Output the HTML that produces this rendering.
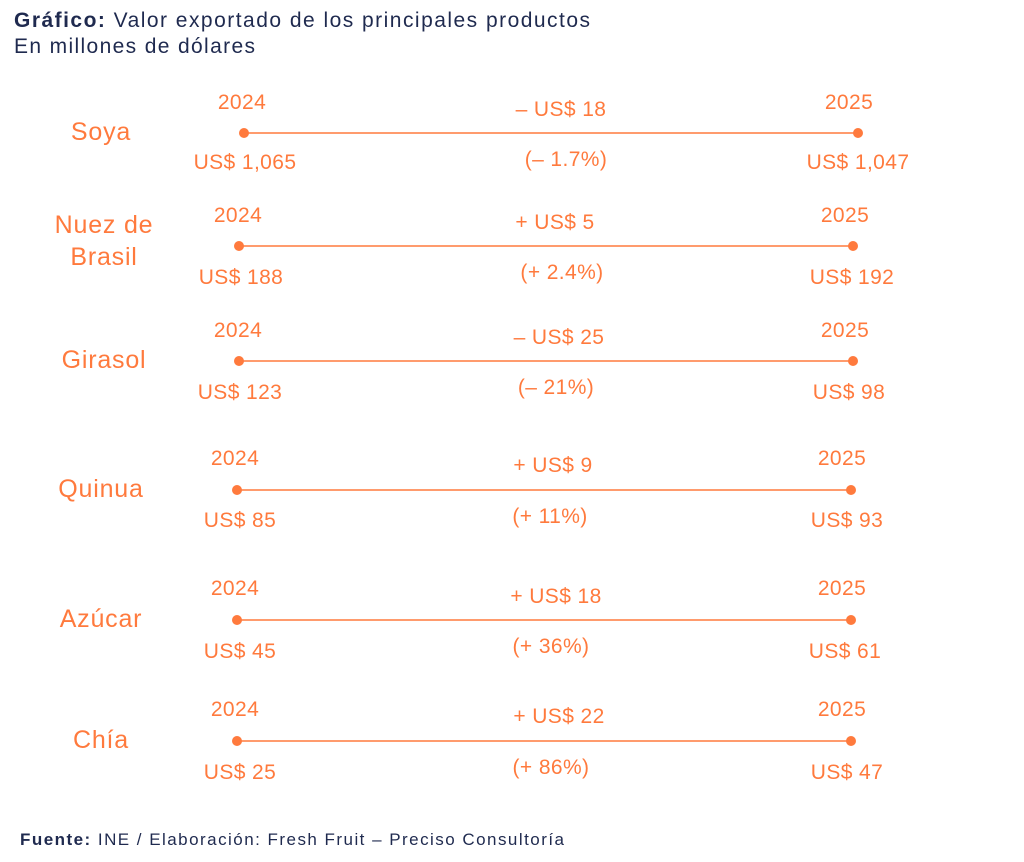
<!DOCTYPE html>
<html><head><meta charset="utf-8"><style>
html,body{margin:0;padding:0;background:#fff;}
svg{display:block;font-family:"Liberation Sans",sans-serif;}
.o{fill:#FF7A3D;font-size:21px;text-anchor:middle;letter-spacing:0.4px;}
.p{fill:#FF7A3D;font-size:25px;text-anchor:middle;letter-spacing:0.8px;}
.n{fill:#1f2a4f;}
</style></head><body>
<svg width="1024" height="862" viewBox="0 0 1024 862">
<text x="14" y="27" class="n" font-size="21" textLength="576" lengthAdjust="spacing"><tspan font-weight="bold">Gráfico:</tspan> Valor exportado de los principales productos</text>
<text x="14" y="53" class="n" font-size="21" textLength="241" lengthAdjust="spacing">En millones de dólares</text>
<g stroke="#FF7A3D" stroke-width="1.5">
<line x1="244" y1="133" x2="858" y2="133"/>
<line x1="239" y1="246" x2="853" y2="246"/>
<line x1="239" y1="361" x2="853" y2="361"/>
<line x1="237" y1="490" x2="851" y2="490"/>
<line x1="237" y1="620" x2="851" y2="620"/>
<line x1="237" y1="741" x2="851" y2="741"/>
</g>
<g fill="#FF7A3D">
<circle cx="244" cy="133" r="5"/><circle cx="858" cy="133" r="5"/>
<circle cx="239" cy="246" r="5"/><circle cx="853" cy="246" r="5"/>
<circle cx="239" cy="361" r="5"/><circle cx="853" cy="361" r="5"/>
<circle cx="237" cy="490" r="5"/><circle cx="851" cy="490" r="5"/>
<circle cx="237" cy="620" r="5"/><circle cx="851" cy="620" r="5"/>
<circle cx="237" cy="741" r="5"/><circle cx="851" cy="741" r="5"/>
</g>
<text class="p" x="101" y="140">Soya</text>
<text class="p" x="104" y="233">Nuez de</text>
<text class="p" x="104" y="265">Brasil</text>
<text class="p" x="104" y="368">Girasol</text>
<text class="p" x="101" y="497">Quinua</text>
<text class="p" x="101" y="627">Azúcar</text>
<text class="p" x="101" y="748">Chía</text>

<text class="o" x="242" y="109">2024</text><text class="o" x="849" y="109">2025</text>
<text class="o" x="245" y="169">US$ 1,065</text><text class="o" x="858" y="169">US$ 1,047</text>
<text class="o" x="561" y="116">– US$ 18</text><text class="o" x="566" y="166">(– 1.7%)</text>

<text class="o" x="238" y="222">2024</text><text class="o" x="845" y="222">2025</text>
<text class="o" x="241" y="284">US$ 188</text><text class="o" x="852" y="284">US$ 192</text>
<text class="o" x="555" y="229">+ US$ 5</text><text class="o" x="562" y="279">(+ 2.4%)</text>

<text class="o" x="238" y="337">2024</text><text class="o" x="845" y="337">2025</text>
<text class="o" x="240" y="399">US$ 123</text><text class="o" x="849" y="399">US$ 98</text>
<text class="o" x="559" y="344">– US$ 25</text><text class="o" x="556" y="394">(– 21%)</text>

<text class="o" x="235" y="465">2024</text><text class="o" x="842" y="465">2025</text>
<text class="o" x="240" y="527">US$ 85</text><text class="o" x="847" y="527">US$ 93</text>
<text class="o" x="553" y="472">+ US$ 9</text><text class="o" x="550" y="523">(+ 11%)</text>

<text class="o" x="235" y="595">2024</text><text class="o" x="842" y="595">2025</text>
<text class="o" x="240" y="658">US$ 45</text><text class="o" x="845" y="658">US$ 61</text>
<text class="o" x="556" y="603">+ US$ 18</text><text class="o" x="551" y="653">(+ 36%)</text>

<text class="o" x="235" y="716">2024</text><text class="o" x="842" y="716">2025</text>
<text class="o" x="240" y="779">US$ 25</text><text class="o" x="847" y="779">US$ 47</text>
<text class="o" x="559" y="723">+ US$ 22</text><text class="o" x="551" y="774">(+ 86%)</text>

<text x="20" y="845" class="n" font-size="17" textLength="544" lengthAdjust="spacing"><tspan font-weight="bold">Fuente:</tspan> INE / Elaboración: Fresh Fruit – Preciso Consultoría</text>
</svg>
</body></html>
